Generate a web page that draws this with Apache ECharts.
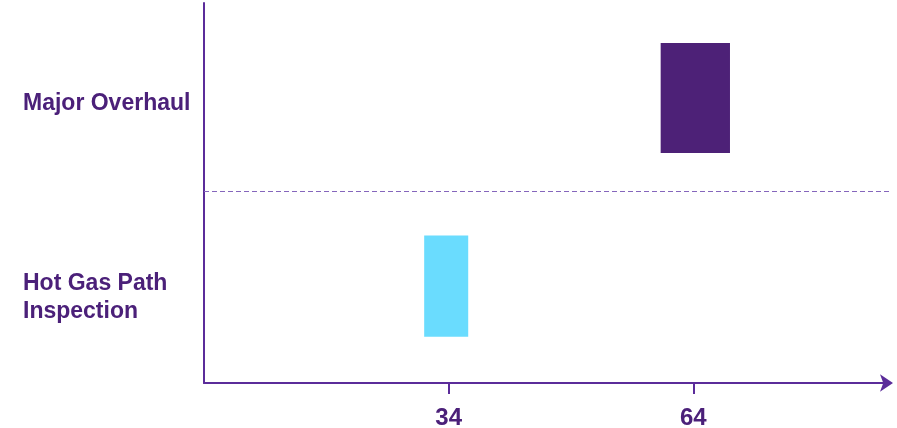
<!DOCTYPE html>
<html><head><meta charset="utf-8">
<script src="https://cdn.jsdelivr.net/npm/echarts@6/dist/echarts.min.js"></script>
<style>html,body{margin:0;padding:0;background:#fff}#c{width:897px;height:428px}</style>
</head><body><div id="c"></div>
<script>
// Data
const categories = ['Hot Gas Path\nInspection', 'Major Overhaul'];
const rangeStart = [31, 60];
const rangeEnd = [36.4, 68.5];
const tickValues = [34, 64];

// Styles
const barColors = ['#6ADCFE', '#4D2177'];
const barHeightRatio = [0.532, 0.579];
const barCenterShift = [0.01, 0];
const labelAnchors = [0.45, 1.47];
const textColor = '#4B2079';
const axisColor = '#5B2C9A';

const chart = echarts.init(document.getElementById('c'));
const data = categories.map((c, i) => [i, rangeStart[i], rangeEnd[i]]);

chart.setOption({
  animation: false,
  grid: { left: 204, right: 8, top: 3, bottom: 45, containLabel: false, outerBoundsMode: 'none' },
  xAxis: {
    type: 'value', min: 4, max: 88,
    axisLine: { show: true, lineStyle: { color: axisColor, width: 2 }, symbol: ['none', 'arrow'], symbolSize: [13, 13], symbolOffset: [0, 4] },
    axisTick: { show: true, customValues: tickValues, length: 11, lineStyle: { color: axisColor, width: 2 } },
    axisLabel: { customValues: tickValues, margin: 23, color: textColor, fontSize: 24, fontWeight: 'bold', fontFamily: 'Arial, "Liberation Sans", sans-serif' },
    splitLine: { show: false }
  },
  yAxis: {
    type: 'value', min: 0, max: 2,
    axisLine: { show: true, lineStyle: { color: axisColor, width: 2 } },
    axisTick: { show: false },
    splitLine: { show: false },
    axisLabel: {
      customValues: labelAnchors,
      formatter: v => categories[Math.floor(v)],
      align: 'left', margin: 181, lineHeight: 28,
      color: textColor, fontSize: 23, fontWeight: 'bold', fontFamily: 'Arial, "Liberation Sans", sans-serif'
    }
  },
  series: [{
    type: 'custom',
    data: data,
    encode: { x: [1, 2], y: 0 },
    renderItem: function (params, api) {
      const row = api.value(0) + 0.5 + barCenterShift[params.dataIndex];
      const p1 = api.coord([api.value(1), row]);
      const p2 = api.coord([api.value(2), row]);
      const bandH = api.size([0, 1])[1];
      const h = bandH * barHeightRatio[params.dataIndex];
      return { type: 'rect', shape: { x: p1[0], y: p1[1] - h / 2, width: p2[0] - p1[0], height: h }, style: { fill: barColors[params.dataIndex] } };
    },
    markLine: {
      silent: true, symbol: ['none', 'none'], label: { show: false },
      lineStyle: { color: '#8566BC', width: 1.2, type: [5, 3] },
      data: [{ yAxis: 1.008 }]
    }
  }]
});
</script></body></html>
